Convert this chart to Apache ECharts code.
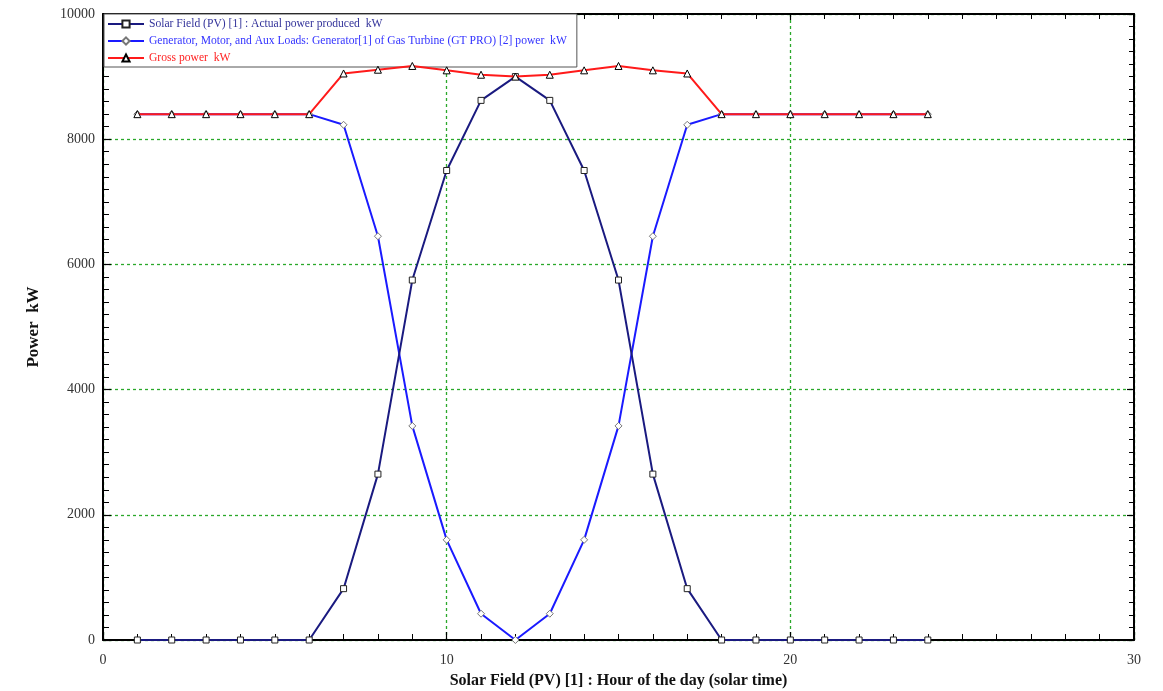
<!DOCTYPE html>
<html><head><meta charset="utf-8">
<script src="https://cdn.jsdelivr.net/npm/echarts@6/dist/echarts.min.js"></script>
<style>html,body{margin:0;padding:0;background:#fff}#c{width:1163px;height:691px}</style>
</head><body><div id="c"></div>
<script>
const hours = [1,2,3,4,5,6,7,8,9,10,11,12,13,14,15,16,17,18,19,20,21,22,23,24];
const solarPower = [0,0,0,0,0,0,820,2650,5750,7500,8620,9000,8620,7500,5750,2650,820,0,0,0,0,0,0,0];
const generatorPower = [8400,8400,8400,8400,8400,8400,8230,6450,3420,1600,420,0,420,1600,3420,6450,8230,8400,8400,8400,8400,8400,8400,8400];
const grossPower = [8400,8400,8400,8400,8400,8400,9050,9110,9170,9100,9030,9000,9030,9100,9170,9100,9050,8400,8400,8400,8400,8400,8400,8400];
const seriesNames = [
  'Solar Field (PV) [1] : Actual power produced  kW',
  'Generator, Motor, and Aux Loads: Generator[1] of Gas Turbine (GT PRO) [2] power  kW',
  'Gross power  kW'
];
const xTitle = 'Solar Field (PV) [1] : Hour of the day (solar time)';
const yTitle = 'Power  kW';

const pairs = arr => hours.map((h, i) => [h, arr[i]]);
const serif = 'Liberation Serif';
const chart = echarts.init(document.getElementById('c'), null, {renderer: 'canvas'});

const axisCommon = {
  axisLine: {show: true, onZero: false, lineStyle: {color: '#000', width: 2}},
  axisTick: {show: true, inside: true, length: 8, lineStyle: {color: '#000', width: 1.2}},
  minorTick: {show: true, splitNumber: 10, length: 6, lineStyle: {color: '#000', width: 1}},
};
const gridLine = {show: true, lineStyle: {color: '#2aa82a', type: [3, 3], width: 1.3}};

chart.setOption({
  animation: false,
  backgroundColor: '#fff',
  grid: {left: 103, right: 29, top: 14, bottom: 51, containLabel: false, outerBoundsMode: 'none'},
  legend: {
    orient: 'vertical', left: 104, top: 14,
    backgroundColor: '#fff', borderColor: '#555', borderWidth: 1,
    padding: [4, 10, 3, 3], itemGap: 5, itemWidth: 36, itemHeight: 9,
    textStyle: {fontFamily: serif, fontSize: 11.6},
    data: [
      {name: seriesNames[0], textStyle: {color: '#33339a'}},
      {name: seriesNames[1], textStyle: {color: '#3333ff'}},
      {name: seriesNames[2], textStyle: {color: '#ff2222'}}
    ]
  },
  xAxis: [
    Object.assign({}, axisCommon, {
      type: 'value', min: 0, max: 30, interval: 10, position: 'bottom',
      name: xTitle, nameLocation: 'middle', nameGap: 33,
      nameTextStyle: {fontFamily: serif, fontSize: 16, fontWeight: 'bold', color: '#111'},
      axisLabel: {fontFamily: serif, fontSize: 14, color: '#333', margin: 13},
      splitLine: gridLine
    }),
    Object.assign({}, axisCommon, {
      type: 'value', min: 0, max: 30, interval: 10, position: 'top',
      axisTick: {show: true, inside: true, length: 6, lineStyle: {color: '#000', width: 1.2}},
      minorTick: {show: true, splitNumber: 10, length: 5, lineStyle: {color: '#000', width: 1}},
      axisLabel: {show: false}, splitLine: {show: false}
    })
  ],
  yAxis: [
    Object.assign({}, axisCommon, {
      type: 'value', min: 0, max: 10000, interval: 2000, position: 'left',
      name: yTitle, nameLocation: 'middle', nameGap: 61, nameRotate: 90,
      nameTextStyle: {fontFamily: serif, fontSize: 17, fontWeight: 'bold', color: '#111'},
      axisLabel: {fontFamily: serif, fontSize: 14, color: '#333', margin: 8, formatter: v => String(v)},
      splitLine: gridLine
    }),
    Object.assign({}, axisCommon, {
      type: 'value', min: 0, max: 10000, interval: 2000, position: 'right',
      axisTick: {show: true, inside: true, length: 7, lineStyle: {color: '#000', width: 1.2}},
      minorTick: {show: true, splitNumber: 10, length: 5, lineStyle: {color: '#000', width: 1}},
      axisLabel: {show: false}, splitLine: {show: false}
    })
  ],
  series: [
    {
      name: seriesNames[0], type: 'line', data: pairs(solarPower), z: 3,
      symbol: 'rect', symbolSize: 6, showAllSymbol: true,
      lineStyle: {color: '#1a1a80', width: 2},
      itemStyle: {color: '#fff', borderColor: '#222', borderWidth: 1}
    },
    {
      name: seriesNames[1], type: 'line', data: pairs(generatorPower), z: 2,
      symbol: 'diamond', symbolSize: 7, showAllSymbol: true,
      lineStyle: {color: '#1a1aff', width: 2},
      itemStyle: {color: '#fff', borderColor: '#777', borderWidth: 1}
    },
    {
      name: seriesNames[2], type: 'line', data: pairs(grossPower), z: 4,
      symbol: 'triangle', symbolSize: 7, showAllSymbol: true,
      lineStyle: {color: '#ff1a1a', width: 2},
      itemStyle: {color: '#fff', borderColor: '#000', borderWidth: 1}
    }
  ]
});
</script></body></html>
